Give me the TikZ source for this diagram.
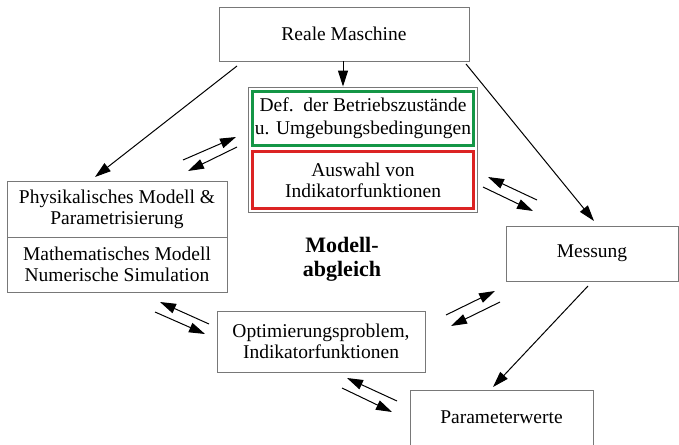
\documentclass[tikz,border=0pt]{standalone}
\usepackage{fontspec}
\setmainfont{Liberation Serif}
\newfontfamily\tms{Liberation Serif}
\usetikzlibrary{arrows.meta}
\definecolor{boxgray}{RGB}{120,120,120}
\definecolor{defgreen}{RGB}{20,150,70}
\definecolor{auswred}{RGB}{220,35,35}
\tikzset{
  txt/.style={font=\tms\fontsize{19.5}{21}\selectfont, align=center},
  graybox/.style={draw=boxgray, line width=0.9pt, inner sep=0pt, txt},
  colbox/.style={draw=#1, line width=2.4pt, inner sep=0pt, txt},
  arr/.style={draw=black, line width=1pt, >={Triangle[length=16pt,width=10pt]}, ->},
}
\begin{document}
\begin{tikzpicture}[x=1pt,y=-1pt]
\useasboundingbox (0,0) rectangle (679,444);
% boxes
\node[graybox, minimum width=250pt, minimum height=54pt] (rm) at (344,34) {Reale Maschine};
\node[draw=boxgray, line width=0.9pt, minimum width=229pt, minimum height=125pt, inner sep=0pt] (outer) at (362.5,149.5) {};
\node[colbox=defgreen, minimum width=221pt, minimum height=54pt, font=\tms\fontsize{19.5}{23}\selectfont] (def) at (363,118.5) {Def.\ \ der Betriebszustände\\u. Umgebungsbedingungen};
\node[colbox=auswred, minimum width=221pt, minimum height=57pt] (ausw) at (363,180) {Auswahl von\\Indikatorfunktionen};
\node[graybox, minimum width=220pt, minimum height=56pt] (phys) at (117,209) {Physikalisches Modell \&\\Parametrisierung};
\node[graybox, minimum width=220pt, minimum height=55pt] (math) at (117,264.5) {Mathematisches Modell\\Numerische Simulation};
\node[graybox, minimum width=208pt, minimum height=61pt] (opt) at (321,341.5) {Optimierungsproblem,\\Indikatorfunktionen};
\node[graybox, minimum width=172pt, minimum height=55pt] (mess) at (592,253.5) {Messung};
\node[graybox, minimum width=183pt, minimum height=60pt] (pw) at (501.5,420) {\raisebox{6pt}{Parameterwerte}};
\node[font=\tms\bfseries\fontsize{22}{24}\selectfont, align=center] (ma) at (342,259) {Modell-\\abgleich};
% main arrows
\draw[arr] (rm.south -| 343,0) -- (outer.north -| 343,0);
\coordinate (a2s) at (237,66); \coordinate (a2e) at (95,177);
\coordinate (a3s) at (466,64); \coordinate (a3e) at (594,221);
\coordinate (a4s) at (588,286); \coordinate (a4e) at (493,387);
\draw[arr] (a2s) -- (a2e);
\draw[arr] (a3s) -- (a3e);
\draw[arr] (a4s) -- (a4e);
% paired arrows
\coordinate (p1a) at (183,160); \coordinate (p1b) at (236,137);
\coordinate (p1c) at (237,147); \coordinate (p1d) at (188,171);
\coordinate (p2a) at (537,200); \coordinate (p2b) at (488,177);
\coordinate (p2c) at (483,187); \coordinate (p2d) at (533,211);
\coordinate (p3a) at (446,315); \coordinate (p3b) at (495,291);
\coordinate (p3c) at (500,302); \coordinate (p3d) at (451,326);
\coordinate (p4a) at (209,324); \coordinate (p4b) at (160,302);
\coordinate (p4c) at (155,312); \coordinate (p4d) at (205,334);
\coordinate (p5a) at (397,401); \coordinate (p5b) at (347,378);
\coordinate (p5c) at (342,388); \coordinate (p5d) at (392,412);
\foreach \p in {p1,p2,p3,p4,p5}{
  \draw[arr] (\p a) -- (\p b);
  \draw[arr] (\p c) -- (\p d);
}
\end{tikzpicture}
\end{document}
